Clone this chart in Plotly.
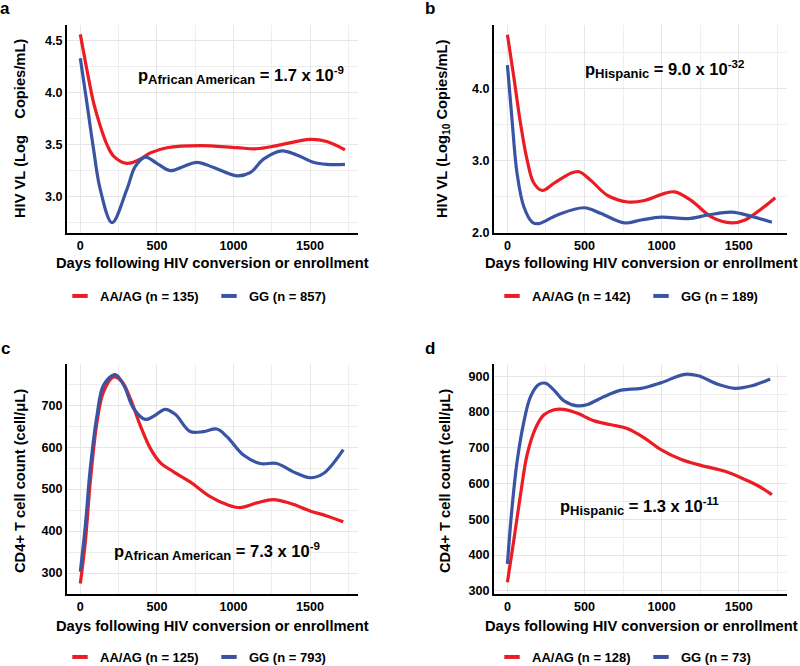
import plotly.graph_objects as go

# Colours / font
RED = "#EC1C24"
BLUE = "#3A54A4"
GRID = "#E6E6E6"
FONT = "Liberation Sans, Arial, sans-serif"

# ---- data ----
# panel a: HIV VL, African American
a_red_days = [0, 43, 87, 130, 174, 217, 304, 391, 457, 565, 783, 1022, 1152, 1283, 1500, 1609, 1728]
a_red_vl = [4.56, 4.22, 3.90, 3.68, 3.50, 3.39, 3.32, 3.36, 3.42, 3.47, 3.49, 3.47, 3.46, 3.49, 3.55, 3.53, 3.45]
a_blue_days = [0, 43, 87, 130, 207, 304, 359, 424, 500, 587, 674, 761, 870, 1022, 1109, 1196, 1315, 1413, 1522, 1609, 1728]
a_blue_vl = [4.33, 3.90, 3.45, 3.07, 2.75, 3.07, 3.29, 3.38, 3.32, 3.25, 3.29, 3.33, 3.28, 3.20, 3.23, 3.36, 3.44, 3.40, 3.33, 3.31, 3.31]

# panel b: HIV VL, Hispanic
b_red_days = [0, 41, 85, 128, 172, 226, 302, 411, 465, 541, 650, 780, 889, 1020, 1085, 1193, 1324, 1454, 1541, 1650, 1737]
b_red_vl = [4.74, 4.16, 3.51, 3.00, 2.68, 2.58, 2.68, 2.82, 2.84, 2.72, 2.51, 2.42, 2.44, 2.54, 2.56, 2.44, 2.21, 2.13, 2.17, 2.33, 2.48]
b_blue_days = [0, 30, 63, 107, 161, 204, 324, 498, 607, 759, 867, 998, 1172, 1302, 1454, 1585, 1715]
b_blue_vl = [4.32, 3.56, 2.81, 2.35, 2.14, 2.12, 2.24, 2.34, 2.26, 2.13, 2.17, 2.21, 2.19, 2.24, 2.28, 2.22, 2.14]

# panel c: CD4+ count, African American
c_red_days = [0, 33, 65, 109, 152, 217, 272, 326, 391, 457, 522, 609, 717, 848, 957, 1043, 1152, 1261, 1370, 1500, 1609, 1717]
c_red_cd4 = [275, 375, 517, 660, 732, 767, 756, 716, 652, 597, 563, 541, 517, 482, 463, 456, 467, 475, 466, 448, 436, 422]
c_blue_days = [0, 33, 65, 109, 152, 228, 283, 348, 424, 489, 554, 620, 717, 804, 891, 957, 1065, 1174, 1283, 1391, 1500, 1587, 1717]
c_blue_cd4 = [303, 414, 549, 676, 748, 773, 748, 692, 666, 676, 690, 678, 637, 637, 643, 625, 581, 561, 561, 541, 527, 537, 594]

# panel d: CD4+ count, Hispanic
d_red_days = [0, 41, 85, 128, 183, 237, 302, 367, 454, 563, 672, 780, 889, 998, 1128, 1259, 1411, 1541, 1628, 1715]
d_red_cd4 = [324, 440, 569, 681, 755, 792, 806, 807, 796, 775, 764, 753, 727, 694, 667, 650, 634, 611, 593, 569]
d_blue_days = [0, 28, 63, 107, 150, 204, 248, 302, 367, 454, 520, 628, 737, 867, 998, 1150, 1237, 1367, 1476, 1585, 1704]
d_blue_cd4 = [375, 523, 662, 773, 843, 877, 880, 861, 831, 817, 821, 843, 861, 866, 882, 905, 901, 877, 866, 873, 892]

legend_names = [
    ("AA/AG (n = 135)", "GG (n = 857)"),
    ("AA/AG (n = 142)", "GG (n = 189)"),
    ("AA/AG (n = 125)", "GG (n = 793)"),
    ("AA/AG (n = 128)", "GG (n = 73)"),
]

panels = [
    (a_red_days, a_red_vl, a_blue_days, a_blue_vl),
    (b_red_days, b_red_vl, b_blue_days, b_blue_vl),
    (c_red_days, c_red_cd4, c_blue_days, c_blue_cd4),
    (d_red_days, d_red_cd4, d_blue_days, d_blue_cd4),
]

W, H = 800, 666

fig = go.Figure()

legend_ids = ["legend", "legend2", "legend3", "legend4"]
for i, (rx, ry, bx, by) in enumerate(panels):
    xa = "x" if i == 0 else "x%d" % (i + 1)
    ya = "y" if i == 0 else "y%d" % (i + 1)
    for xs, ys, col in [(rx, ry, RED), (bx, by, BLUE)]:
        fig.add_trace(go.Scatter(x=xs, y=ys, mode="lines", xaxis=xa, yaxis=ya,
                                 line=dict(color=col, width=3.2, shape="spline", smoothing=1),
                                 showlegend=False, hoverinfo="skip"))
    # legend-only entries (short line marker like the reference)
    for name, col in zip(legend_names[i], [RED, BLUE]):
        fig.add_trace(go.Scatter(x=[None], y=[None], mode="markers", xaxis=xa, yaxis=ya,
                                 name=name, legend=legend_ids[i],
                                 marker=dict(symbol="line-ew-open", size=11, color=col,
                                             line=dict(width=4, color=col))))

# plot areas in pixels (left, right, top, bottom)
boxes = [(67, 358, 25, 233), (494, 787, 25, 233), (67, 358, 364, 594), (494, 787, 364, 594)]

y_ranges = [[2.65, 4.65], [1.99, 4.875], [250, 798], [291, 934]]
y_ticks = [[3.0, 3.5, 4.0, 4.5], [2.0, 3.0, 4.0], [300, 400, 500, 600, 700], [300, 400, 500, 600, 700, 800, 900]]
y_ticktext = [["3.0", "3.5", "4.0", "4.5"], ["2.0", "3.0", "4.0"],
              ["300", "400", "500", "600", "700"], ["300", "400", "500", "600", "700", "800", "900"]]
y_minor = [[2.75, 3.25, 3.75, 4.25], [2.5, 3.5, 4.5],
           [350, 450, 550, 650, 750], [350, 450, 550, 650, 750, 850]]
x_ticks = [0, 500, 1000, 1500]
x_minor = [250, 750, 1250, 1750]

tickfont = dict(family=FONT, size=12.6, color="black", weight="bold")

for i, (l, r, t, b) in enumerate(boxes):
    xkey = "xaxis" if i == 0 else "xaxis%d" % (i + 1)
    ykey = "yaxis" if i == 0 else "yaxis%d" % (i + 1)
    ya = "y" if i == 0 else "y%d" % (i + 1)
    xa = "x" if i == 0 else "x%d" % (i + 1)
    fig.layout[xkey] = dict(
        domain=[l / W, r / W], anchor=ya, range=[-87, 1813],
        tickmode="array", tickvals=x_ticks, ticks="",
        showgrid=True, gridcolor=GRID, gridwidth=1.3, zeroline=False,
        minor=dict(tickmode="array", tickvals=x_minor, showgrid=True, gridcolor="#EEEEEE", gridwidth=1),
        showline=True, linecolor="black", linewidth=2, tickfont=tickfont, automargin=False,
    )
    fig.layout[ykey] = dict(
        domain=[1 - b / H, 1 - t / H], anchor=xa, range=y_ranges[i],
        tickmode="array", tickvals=y_ticks[i], ticktext=y_ticktext[i], ticks="",
        showgrid=True, gridcolor=GRID, gridwidth=1.3, zeroline=False,
        minor=dict(tickmode="array", tickvals=y_minor[i], showgrid=True, gridcolor="#EEEEEE", gridwidth=1),
        showline=True, linecolor="black", linewidth=2, tickfont=tickfont, automargin=False,
    )

# legends under each panel
leg_pos = [(60, 296), (492, 296), (60, 657), (492, 657)]
for lid, (lx, ly) in zip(legend_ids, leg_pos):
    fig.layout[lid] = dict(
        orientation="h", x=lx / W, y=1 - ly / H, xanchor="left", yanchor="middle",
        bgcolor="rgba(0,0,0,0)", entrywidth=104, itemwidth=30,
        font=dict(family=FONT, size=13, color="black", weight="bold"),
    )

annotations = []


def add_text(text, px, py, size, angle=0, xanchor="center"):
    annotations.append(dict(text=text, x=px / W, y=1 - py / H, xref="paper", yref="paper",
                            showarrow=False, textangle=angle, xanchor=xanchor, yanchor="middle",
                            font=dict(family=FONT, size=size, color="black", weight="bold")))


# panel letters
for letter, (px, py) in zip("abcd", [(5, 9), (430, 9), (5, 348), (430, 348)]):
    add_text(letter, px, py, 17)

# axis titles
xtitle = "Days following HIV conversion or enrollment"
add_text(xtitle, 212, 263, 14.7)
add_text(xtitle, 641, 263, 14.7)
add_text(xtitle, 212, 626, 14.7)
add_text(xtitle, 641, 626, 14.7)
add_text("HIV VL (Log\u00a0\u00a0\u00a0 Copies/mL)", 20, 129, 14.7, angle=-90)
add_text("HIV VL (Log<sub>10</sub> Copies/mL)", 443, 129, 14.7, angle=-90)
add_text("CD4+ T cell count (cell/\u03bcL)", 20, 481, 14.7, angle=-90)
add_text("CD4+ T cell count (cell/\u03bcL)", 445, 481, 14.7, angle=-90)

# p-values
sub = "<sub><span style='font-size:13px'>%s</span></sub>"
add_text("p" + sub % "African American" + " = 1.7 x 10<sup>-9</sup>", 241, 76, 16.5)
add_text("p" + sub % "Hispanic" + " = 9.0 x 10<sup>-32</sup>", 664, 69, 16.5)
add_text("p" + sub % "African American" + " = 7.3 x 10<sup>-9</sup>", 217, 551, 16.5)
add_text("p" + sub % "Hispanic" + " = 1.3 x 10<sup>-11</sup>", 639, 506, 16.5)

fig.update_layout(
    width=W, height=H,
    margin=dict(l=0, r=0, t=0, b=0, autoexpand=False),
    paper_bgcolor="white", plot_bgcolor="white",
    annotations=annotations,
    font=dict(family=FONT, color="black"),
)

# remove the default page margin so the 800x666 figure fills the window
fig.write_html("out.html", config={"displayModeBar": False},
               post_script="document.body.style.margin='0px';")
